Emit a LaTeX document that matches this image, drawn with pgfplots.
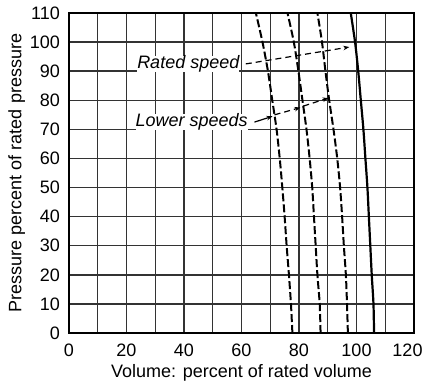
\documentclass[border=0pt]{standalone}
\usepackage{pgfplots}
\pgfplotsset{compat=1.18}
\usepackage{fontspec}
\setmainfont{Liberation Sans}
\usetikzlibrary{arrows.meta}
\begin{document}
\begin{tikzpicture}
\begin{axis}[
  scale only axis, width=172.5pt, height=160pt,
  xmin=0, xmax=120, ymin=0, ymax=110,
  xtick={0,20,...,120}, minor xtick={10,30,...,110},
  xticklabels={0,20,40,60,80,100,\hspace*{-6.5pt}120},
  ytick={0,10,...,110},
  grid=both,
  major grid style={black!80, line width=0.7pt},
  minor grid style={black!80, line width=0.7pt},
  axis line style={line width=1pt},
  tick style={draw=none},
  /pgf/number format/assume math mode=true,
  ticklabel style={font=\fontsize{9}{10}\selectfont},
  label style={font=\fontsize{9}{10}\selectfont},
  xlabel={Volume: percent of rated volume},
  ylabel={Pressure percent of rated pressure},
  xticklabel style={yshift=-2pt},
  yticklabel style={xshift=-1pt},
  xlabel style={yshift=3pt},
  ylabel style={yshift=-4.5pt},
]
\addplot[black, line width=1pt, dash pattern=on 4pt off 1.5pt, smooth] coordinates {
(77.7,0) (77.2,10) (76.5,20) (75.7,30) (75,40) (74.2,50) (73.3,60) (72.2,70) (70.7,80) (69.2,90) (67.3,100) (65,110)};
\addplot[black, line width=1pt, dash pattern=on 4pt off 1.5pt, smooth] coordinates {
(87.5,0) (87.2,10) (86.4,20) (85.8,30) (85.2,40) (84.6,50) (83.7,60) (82.6,70) (81.2,80) (79.8,90) (78.2,100) (76,110)};
\addplot[black, line width=1pt, dash pattern=on 4pt off 1.5pt, smooth] coordinates {
(97,0) (96.7,10) (96.3,20) (95.6,30) (95,40) (94.3,50) (93.3,60) (92,70) (90.5,80) (89.2,90) (88,100) (86.4,110)};
\addplot[black, line width=1.1pt, smooth] coordinates {
(106.1,0) (105.9,10) (105.3,20) (104.8,30) (104.3,40) (103.8,50) (103.1,60) (102.4,70) (101.5,80) (100.6,90) (99.5,100) (98,110)};
\node[anchor=west, inner sep=0pt, font=\fontsize{9}{10}\selectfont\itshape, fill=white] at (axis cs:23.6,92.5) {Rated speed};
\node[anchor=west, inner sep=0pt, font=\fontsize{9}{10}\selectfont\itshape, fill=white] at (axis cs:23.0,72.5) {Lower speeds};
\draw[black, line width=0.6pt, dash pattern=on 3pt off 2pt, -{Stealth[length=3pt]}] (axis cs:61.5,92.5) -- (axis cs:97.5,98.3);
\draw[black, line width=0.6pt, -{Stealth[length=3pt]}] (axis cs:64.5,72.5) -- (axis cs:70.8,74.5);
\draw[black, line width=0.6pt, dash pattern=on 3pt off 2pt, -{Stealth[length=3pt]}] (axis cs:71.5,75) -- (axis cs:80.5,77.5);
\draw[black, line width=0.6pt, dash pattern=on 3pt off 2pt, -{Stealth[length=3pt]}] (axis cs:81.5,78) -- (axis cs:90.3,80.8);
\end{axis}
\path (current axis.south west) ++(-34.5pt,-24.5pt) coordinate (bbA);
\path (current axis.north east) ++(4.5pt,6.5pt) coordinate (bbB);
\pgfresetboundingbox
\path[use as bounding box] (bbA) rectangle (bbB);
\end{tikzpicture}
\end{document}
